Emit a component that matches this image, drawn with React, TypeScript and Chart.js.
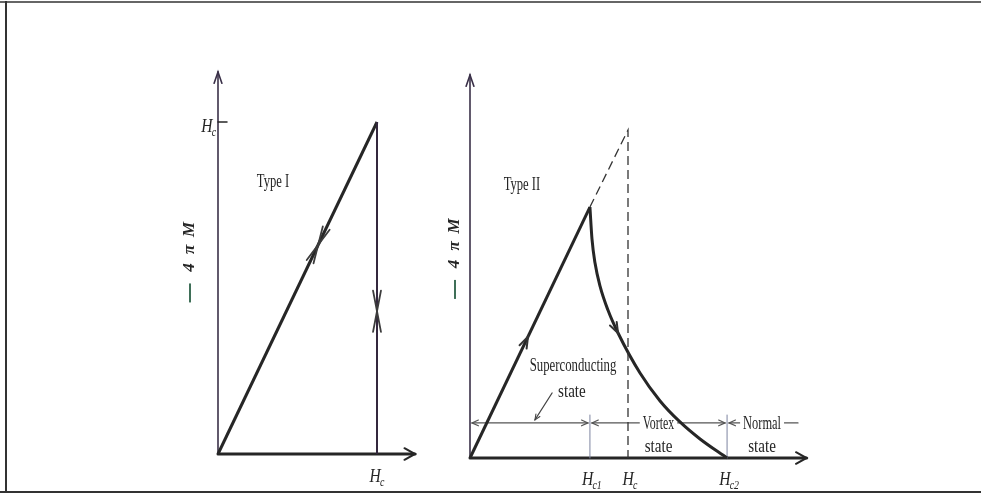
import React, { useEffect, useRef } from "react";
import { Chart, registerables } from "chart.js";

Chart.register(...registerables);

// Applied field H and magnetization −4πM, both in units of the
// thermodynamic critical field Hc.

// ---- Type I superconductor ----
const typeIField = [0, 1, 1];
const typeIMag = [0, 1, 0];
// double arrowheads marking the reversible path
const typeIReversibleField = [0.63, 1];
const typeIReversibleMag = [0.63, 0.43];
const typeIXTickValues = [1];
const typeIXTickLabels = [["H", "c"]];
const typeIYTickValues = [1];
const typeIYTickLabels = [["H", "c"]];

// ---- Type II superconductor ----
const meissnerField = [0, 0.759];
const meissnerMag = [0, 0.765];
const vortexField = [0.759, 0.772, 0.791, 0.823, 0.873, 0.937, 1.076, 1.203, 1.329, 1.456, 1.627];
const vortexMag = [0.765, 0.668, 0.595, 0.524, 0.451, 0.381, 0.259, 0.174, 0.11, 0.058, 0];
const idealField = [0.759, 1, 1];
const idealMag = [0.765, 1, 0];
const typeIIXTickValues = [0.759, 1, 1.627];
const typeIIXTickLabels = [["H", "c1"], ["H", "c"], ["H", "c2"]];
const stateNames = ["Superconducting", "Vortex", "Normal"];
const stateWord = "state";

const INK = "#262626";
const AXIS_INK = "#3a3048";
const FONT = '"Liberation Serif", "DejaVu Serif", serif';

const pts = (xs: number[], ys: number[]) => xs.map((x, i) => ({ x, y: ys[i] }));

function seg(ctx: CanvasRenderingContext2D, x1: number, y1: number, x2: number, y2: number) {
  ctx.beginPath();
  ctx.moveTo(x1, y1);
  ctx.lineTo(x2, y2);
  ctx.stroke();
}

// open arrowhead with its tip at (x, y), pointing along ang
function arrowHead(ctx: CanvasRenderingContext2D, x: number, y: number, ang: number, len: number, spread: number) {
  ctx.beginPath();
  ctx.moveTo(x - len * Math.cos(ang - spread), y - len * Math.sin(ang - spread));
  ctx.lineTo(x, y);
  ctx.lineTo(x - len * Math.cos(ang + spread), y - len * Math.sin(ang + spread));
  ctx.stroke();
}

// two arrowheads meeting tip to tip: the path is traversed both ways
function reversibleMark(ctx: CanvasRenderingContext2D, x: number, y: number, ang: number, len: number, spread: number) {
  for (const dir of [ang, ang + Math.PI]) {
    ctx.beginPath();
    ctx.moveTo(x + len * Math.cos(dir - spread), y + len * Math.sin(dir - spread));
    ctx.lineTo(x, y);
    ctx.lineTo(x + len * Math.cos(dir + spread), y + len * Math.sin(dir + spread));
    ctx.stroke();
  }
}

function text(
  ctx: CanvasRenderingContext2D,
  s: string,
  x: number,
  y: number,
  o: { size?: number; italic?: boolean; sx?: number; align?: CanvasTextAlign; backing?: boolean } = {}
) {
  const size = o.size ?? 18;
  const sx = o.sx ?? 0.72;
  ctx.save();
  ctx.font = `${o.italic ? "italic " : ""}${size}px ${FONT}`;
  const w = ctx.measureText(s).width * sx;
  if (o.backing) {
    ctx.fillStyle = "#ffffff";
    ctx.fillRect(x - w / 2 - 3, y - size / 2, w + 6, size);
  }
  ctx.translate(x, y);
  ctx.scale(sx, 1);
  ctx.fillStyle = INK;
  ctx.textAlign = o.align ?? "center";
  ctx.textBaseline = "middle";
  ctx.fillText(s, 0, 0);
  ctx.restore();
}

// italic symbol with a subscript, e.g. H_c1; y is the baseline of the symbol
function symbol(ctx: CanvasRenderingContext2D, main: string, sub: string, x: number, y: number, align: "center" | "right") {
  const sx = 0.82;
  ctx.save();
  ctx.font = `italic 19px ${FONT}`;
  const wm = ctx.measureText(main).width;
  ctx.font = `italic 12px ${FONT}`;
  const ws = ctx.measureText(sub).width;
  const total = (wm + ws - 1) * sx;
  const x0 = align === "center" ? x - total / 2 : x - total;
  ctx.translate(x0, y);
  ctx.scale(sx, 1);
  ctx.fillStyle = INK;
  ctx.textAlign = "left";
  ctx.textBaseline = "alphabetic";
  ctx.font = `italic 19px ${FONT}`;
  ctx.fillText(main, 0, 0);
  ctx.font = `italic 12px ${FONT}`;
  ctx.fillText(sub, wm - 1, 4);
  ctx.restore();
}

// vertical axis title "−4πM", reading upward
function magnetizationTitle(ctx: CanvasRenderingContext2D, cx: number, cy: number) {
  ctx.save();
  ctx.translate(cx, cy);
  ctx.rotate(-Math.PI / 2);
  ctx.fillStyle = INK;
  ctx.textAlign = "center";
  ctx.textBaseline = "middle";
  ctx.font = `italic bold 17px ${FONT}`;
  ctx.fillText("M", 32, 0);
  ctx.fillText("π", 12, 0);
  ctx.fillText("4", -6, 0);
  ctx.fillStyle = "#3f6f58";
  ctx.fillRect(-41, -1, 19, 2);
  ctx.restore();
}

function drawAxes(ctx: CanvasRenderingContext2D, x0: number, y0: number, xEnd: number, yTop: number) {
  ctx.lineCap = "round";
  ctx.strokeStyle = AXIS_INK;
  ctx.lineWidth = 1.6;
  seg(ctx, x0, y0, x0, yTop);
  arrowHead(ctx, x0, yTop, -Math.PI / 2, 12, 0.33);
  ctx.strokeStyle = INK;
  ctx.lineWidth = 3;
  seg(ctx, x0, y0, xEnd, y0);
  ctx.lineWidth = 2;
  arrowHead(ctx, xEnd, y0, 0, 12, 0.5);
}

type Layout = {
  left: number;
  top: number;
  width: number;
  height: number;
  originX: number;
  originY: number;
  unitX: number;
  unitY: number;
};

const typeILayout: Layout = { left: 140, top: 40, width: 300, height: 452, originX: 218, originY: 454, unitX: 159, unitY: 332 };
const typeIILayout: Layout = { left: 445, top: 40, width: 380, height: 452, originX: 470, originY: 458, unitX: 158, unitY: 328 };

const typeIDecor = {
  id: "typeIDecor",
  beforeDatasetsDraw(chart: any) {
    const { ctx } = chart;
    const X = (v: number) => chart.scales.x.getPixelForValue(v);
    const Y = (v: number) => chart.scales.y.getPixelForValue(v);
    ctx.save();
    drawAxes(ctx, X(0), Y(0), X(1.239), Y(1.151));
    ctx.strokeStyle = INK;
    ctx.lineWidth = 1.5;
    typeIYTickValues.forEach((v, i) => {
      seg(ctx, X(0), Y(v), X(0) + 9, Y(v));
      symbol(ctx, typeIYTickLabels[i][0], typeIYTickLabels[i][1], X(0) - 2, Y(v) + 10, "right");
    });
    typeIXTickValues.forEach((v, i) => {
      symbol(ctx, typeIXTickLabels[i][0], typeIXTickLabels[i][1], X(v), Y(0) + 28, "center");
    });
    text(ctx, "Type I", X(0.346), Y(0.819), { sx: 0.7 });
    magnetizationTitle(ctx, X(0) - 28, Y(0.58));
    ctx.restore();
  },
  afterDatasetsDraw(chart: any) {
    const { ctx } = chart;
    const X = (v: number) => chart.scales.x.getPixelForValue(v);
    const Y = (v: number) => chart.scales.y.getPixelForValue(v);
    ctx.save();
    ctx.strokeStyle = "#3c3c3c";
    ctx.lineWidth = 1.8;
    ctx.lineCap = "round";
    const diag = Math.atan2(Y(1) - Y(0), X(1) - X(0));
    reversibleMark(ctx, X(typeIReversibleField[0]), Y(typeIReversibleMag[0]), diag, 19, 0.2);
    reversibleMark(ctx, X(typeIReversibleField[1]), Y(typeIReversibleMag[1]), -Math.PI / 2, 21, 0.19);
    ctx.restore();
  },
};

const HC1 = typeIIXTickValues[0];
const HC2 = typeIIXTickValues[2];

const typeIIDecor = {
  id: "typeIIDecor",
  beforeDatasetsDraw(chart: any) {
    const { ctx } = chart;
    const X = (v: number) => chart.scales.x.getPixelForValue(v);
    const Y = (v: number) => chart.scales.y.getPixelForValue(v);
    ctx.save();
    drawAxes(ctx, X(0), Y(0), X(2.13), Y(1.168));

    // guide ticks at Hc1 and Hc2
    ctx.strokeStyle = "#7d84a0";
    ctx.lineWidth = 1;
    seg(ctx, X(HC1), Y(0), X(HC1), Y(0.131));
    seg(ctx, X(HC2), Y(0), X(HC2), Y(0.131));

    // state band
    const by = Y(0.107);
    ctx.strokeStyle = "#555";
    ctx.lineWidth = 1.2;
    ctx.lineCap = "round";
    seg(ctx, X(0) + 2, by, X(HC1) - 2, by);
    arrowHead(ctx, X(0) + 2, by, Math.PI, 7, 0.42);
    arrowHead(ctx, X(HC1) - 2, by, 0, 7, 0.42);
    seg(ctx, X(HC1) + 2, by, X(HC2) - 2, by);
    arrowHead(ctx, X(HC1) + 2, by, Math.PI, 7, 0.42);
    arrowHead(ctx, X(HC2) - 2, by, 0, 7, 0.42);
    seg(ctx, X(HC2) + 2, by, X(2.076), by);
    arrowHead(ctx, X(HC2) + 2, by, Math.PI, 7, 0.42);

    const vortexX = (X(HC1) + X(HC2)) / 2;
    const normalX = X(HC2) + 35;
    text(ctx, stateNames[1], vortexX, by + 1, { sx: 0.66, backing: true });
    text(ctx, stateWord, vortexX, by + 24, { sx: 0.84 });
    text(ctx, stateNames[2], normalX, by + 1, { sx: 0.69, backing: true });
    text(ctx, stateWord, normalX, by + 24, { sx: 0.84 });

    text(ctx, stateNames[0], X(0.652), by - 57, { sx: 0.71 });
    text(ctx, stateWord, X(0.645), by - 31, { sx: 0.84 });
    ctx.strokeStyle = "#444";
    ctx.lineWidth = 1.1;
    const lx0 = X(0.52), lx1 = X(0.411);
    seg(ctx, lx0, by - 30, lx1, by - 3);
    const lead = Math.atan2(27, lx1 - lx0);
    arrowHead(ctx, lx1, by - 3, lead, 6, 0.4);

    typeIIXTickValues.forEach((v, i) => {
      symbol(ctx, typeIIXTickLabels[i][0], typeIIXTickLabels[i][1], X(v) + 2, Y(0) + 27, "center");
    });
    text(ctx, "Type II", X(0.329), Y(0.832), { sx: 0.7 });
    magnetizationTitle(ctx, X(0) - 15, Y(0.61));
    ctx.restore();
  },
  afterDatasetsDraw(chart: any) {
    const { ctx } = chart;
    const X = (v: number) => chart.scales.x.getPixelForValue(v);
    const Y = (v: number) => chart.scales.y.getPixelForValue(v);
    ctx.save();
    ctx.strokeStyle = "#333";
    ctx.lineWidth = 2;
    ctx.lineCap = "round";
    const rise = Math.atan2(Y(meissnerMag[1]) - Y(meissnerMag[0]), X(meissnerField[1]) - X(meissnerField[0]));
    arrowHead(ctx, X(0.367), Y(0.367 * (meissnerMag[1] / meissnerField[1])), rise, 12, 0.33);
    const i = 5;
    const fall = Math.atan2(Y(vortexMag[i + 1]) - Y(vortexMag[i - 1]), X(vortexField[i + 1]) - X(vortexField[i - 1]));
    arrowHead(ctx, X(vortexField[i]), Y(vortexMag[i]), fall, 11, 0.35);
    ctx.restore();
  },
};

const typeIDatasets = [
  {
    data: pts(typeIField, typeIMag),
    showLine: true,
    borderColor: INK,
    borderWidth: 3,
    pointRadius: 0,
    clip: false,
    segment: {
      borderWidth: (c: any) => (c.p0DataIndex === 0 ? 3 : 2),
      borderColor: (c: any) => (c.p0DataIndex === 0 ? INK : "#34283e"),
    },
  },
];

const typeIIDatasets = [
  {
    data: pts(idealField, idealMag),
    showLine: true,
    borderColor: "#333",
    borderWidth: 1.3,
    borderDash: [9, 5],
    pointRadius: 0,
    clip: false,
  },
  {
    data: pts(meissnerField, meissnerMag),
    showLine: true,
    borderColor: INK,
    borderWidth: 3,
    pointRadius: 0,
    clip: false,
  },
  {
    data: pts(vortexField, vortexMag),
    showLine: true,
    borderColor: INK,
    borderWidth: 3,
    pointRadius: 0,
    cubicInterpolationMode: "monotone",
    clip: false,
  },
];

function Panel({ layout, datasets, decor }: { layout: Layout; datasets: any[]; decor: any }) {
  const ref = useRef<HTMLCanvasElement | null>(null);
  useEffect(() => {
    const el = ref.current;
    if (!el) return;
    const { left, top, width, height, originX, originY, unitX, unitY } = layout;
    const chart = new Chart(el, {
      type: "scatter",
      data: { datasets },
      options: {
        animation: false,
        responsive: false,
        maintainAspectRatio: false,
        devicePixelRatio: 1,
        events: [],
        layout: { padding: 0 },
        plugins: { legend: { display: false }, tooltip: { enabled: false } },
        elements: { point: { radius: 0, hoverRadius: 0 } },
        scales: {
          x: {
            type: "linear",
            display: false,
            min: (left - originX) / unitX,
            max: (left + width - originX) / unitX,
          },
          y: {
            type: "linear",
            display: false,
            min: (originY - top - height) / unitY,
            max: (originY - top) / unitY,
          },
        },
      } as any,
      plugins: [decor],
    });
    return () => chart.destroy();
  }, []);
  return (
    <canvas
      ref={ref}
      width={layout.width}
      height={layout.height}
      style={{
        position: "absolute",
        left: layout.left,
        top: layout.top,
        width: layout.width,
        height: layout.height,
        display: "block",
      }}
    />
  );
}

export default function App() {
  return (
    <div
      style={{
        position: "absolute",
        left: 0,
        top: 0,
        width: 981,
        height: 494,
        background: "#ffffff",
        overflow: "hidden",
      }}
    >
      <div style={{ position: "absolute", left: 0, top: 1, width: 981, height: 2, background: "#666" }} />
      <div style={{ position: "absolute", left: 5, top: 1, width: 2, height: 492, background: "#333" }} />
      <div style={{ position: "absolute", left: 0, top: 491, width: 981, height: 2, background: "#333" }} />
      <Panel layout={typeILayout} datasets={typeIDatasets} decor={typeIDecor} />
      <Panel layout={typeIILayout} datasets={typeIIDatasets} decor={typeIIDecor} />
    </div>
  );
}
